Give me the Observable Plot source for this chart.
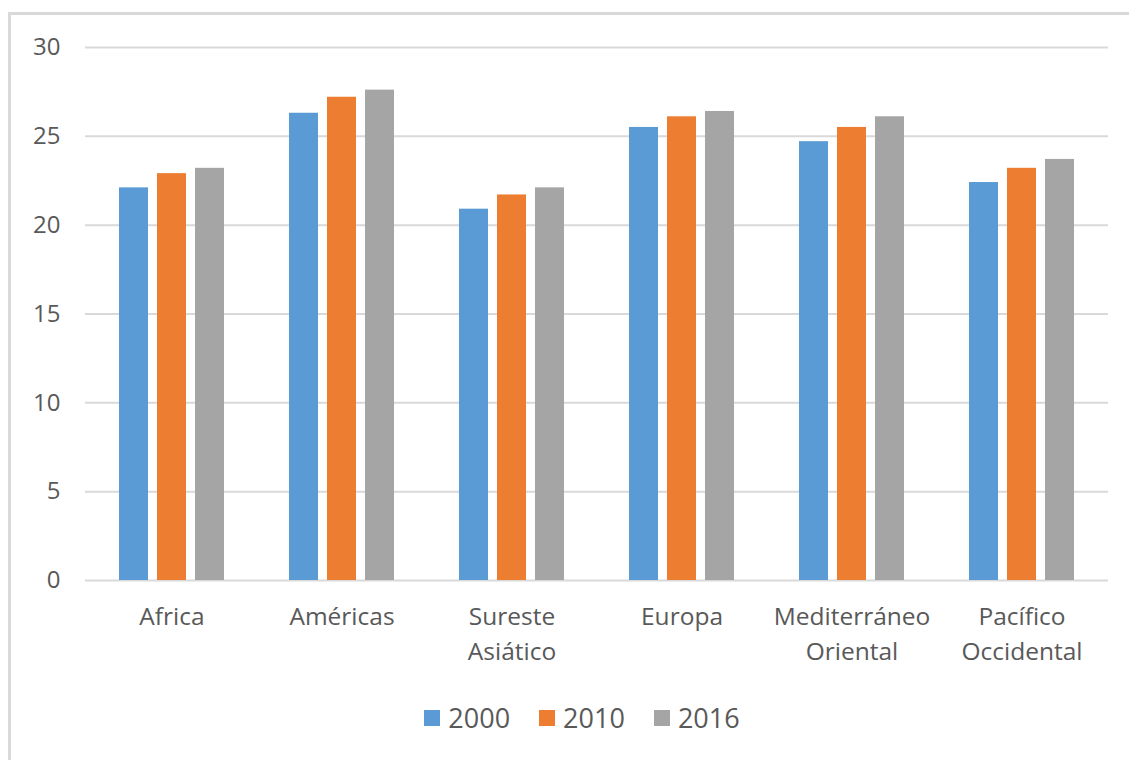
<!DOCTYPE html>
<html>
<head>
<meta charset="utf-8">
<script src="https://cdn.jsdelivr.net/npm/d3@7"></script>
<script src="https://cdn.jsdelivr.net/npm/@observablehq/plot@0.6"></script>
<style>
  body { margin: 0; background: #fff; font-family: "Open Sans", sans-serif; }
  #frame { position: absolute; left: 8px; top: 12px; width: 1200px; height: 800px;
           border: 3px solid #d9d9d9; box-sizing: border-box; }
  #chart { position: absolute; left: 0; top: 0; }
  #legend { position: absolute; left: 14px; top: 699px; width: 1165px; }
  #legend .lg-swatches { justify-content: center; }
  #legend .lg-swatch svg { margin-right: 8px !important; }
  #legend .lg-swatch { margin-right: 29px !important; }
</style>
</head>
<body>
<div id="frame"></div>
<div id="chart"></div>
<div id="legend"></div>
<script>
// Regions (WHO) and their axis labels
const regions = ["Africa", "Américas", "Sureste Asiático", "Europa", "Mediterráneo Oriental", "Pacífico Occidental"];
const regionLabels = ["Africa", "Américas", "Sureste\nAsiático", "Europa", "Mediterráneo\nOriental", "Pacífico\nOccidental"];

// Series, one per year
const years = ["2000", "2010", "2016"];
const values2000 = [22.1, 26.3, 20.9, 25.5, 24.7, 22.4];
const values2010 = [22.9, 27.2, 21.7, 26.1, 25.5, 23.2];
const values2016 = [23.2, 27.6, 22.1, 26.4, 26.1, 23.7];

const yTicks = [0, 5, 10, 15, 20, 25, 30];
const colors = ["#5b9bd5", "#ed7d31", "#a5a5a5"];

const series = [values2000, values2010, values2016];
const textColor = "#595959";
const font = "'Open Sans', sans-serif";

// One bar mark per year, each occupying its third of the region band
const barStep = 38;
const bars = series.map((vals, i) =>
  Plot.barY(regions.map((r, j) => ({region: r, year: years[i], value: vals[j]})), {
    x: "region",
    y: "value",
    fill: colors[i],
    insetLeft: i * barStep,
    insetRight: (years.length - 1 - i) * barStep
  })
);

const chart = Plot.plot({
  width: 1129,
  height: 680,
  marginLeft: 85,
  marginRight: 21,
  marginTop: 47,
  marginBottom: 100,
  style: {fontFamily: font, fontSize: "24px", color: textColor, background: "transparent"},
  x: {domain: regions, paddingInner: 0.384, paddingOuter: 0.192, label: null},
  y: {domain: [0, 30], label: null},
  marks: [
    Plot.gridY({ticks: yTicks, stroke: "#d9d9d9", strokeOpacity: 1, strokeWidth: 2}),
    ...bars,
    Plot.axisY({ticks: yTicks, tickSize: 0, tickPadding: 25, fontSize: 24, label: null}),
    Plot.axisX({
      tickSize: 0,
      tickPadding: 19,
      fontSize: 24.5,
      lineHeight: 1.45,
      label: null,
      tickFormat: r => regionLabels[regions.indexOf(r)]
    })
  ]
});
document.getElementById("chart").appendChild(chart);

const legend = Plot.legend({
  color: {type: "ordinal", domain: years, range: colors},
  legend: "swatches",
  swatchSize: 16,
  className: "lg",
  style: {fontFamily: font, fontSize: "27px", color: textColor}
});
document.getElementById("legend").appendChild(legend);
</script>
</body>
</html>
